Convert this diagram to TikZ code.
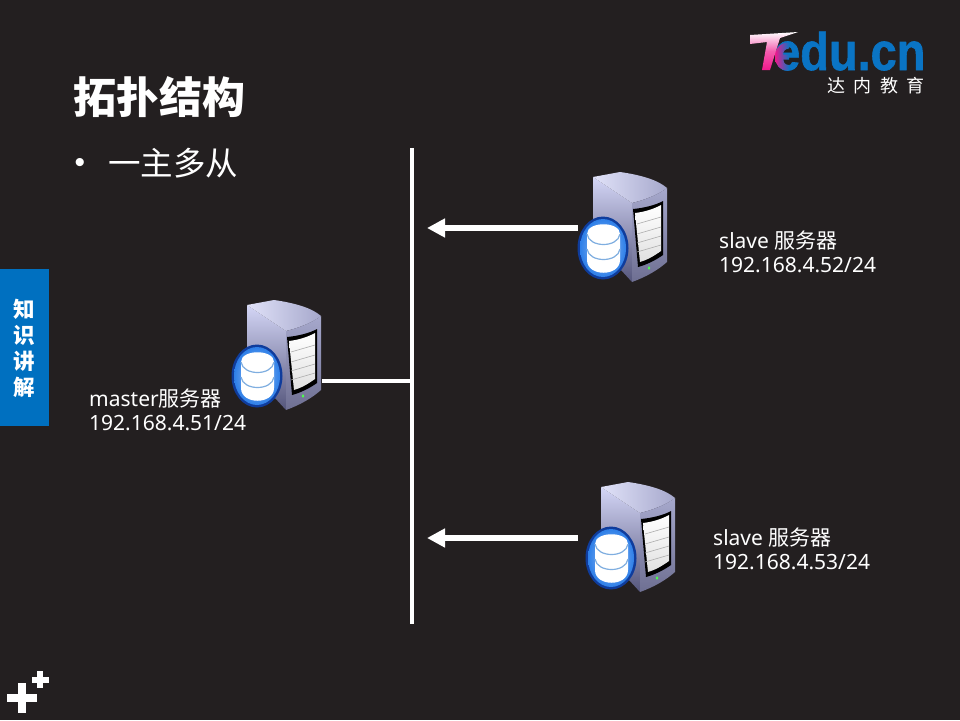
\documentclass[tikz,border=0pt]{standalone}
\usepackage{fontspec}
\setmainfont{Noto Sans}
\newfontfamily\cjk{Noto Sans CJK SC}
\newfontfamily\logofont[BoldFeatures={FakeBold=1.2}]{Liberation Sans}
\usetikzlibrary{arrows.meta,shadings}
\definecolor{bgc}{HTML}{231F20}
\definecolor{sidec}{HTML}{0070C0}
\definecolor{logob}{HTML}{0A74C4}
\definecolor{logop}{HTML}{F0188C}
\definecolor{dbdark}{HTML}{0F3C9C}
\definecolor{dbmid}{HTML}{2E7FE8}
\definecolor{dbline}{HTML}{7FAEE0}
\definecolor{sideup}{HTML}{D4D6F6}
\definecolor{sidelow}{HTML}{55567C}
\definecolor{frontup}{HTML}{A6A8CC}
\definecolor{frontlow}{HTML}{6E6F92}
\tikzset{
  lbl/.style={anchor=west,text=white,font=\fontsize{21}{24}\selectfont,inner sep=0pt},
  sidetxt/.style={text=white,font=\cjk\bfseries\fontsize{21.5}{22}\selectfont,inner sep=0pt},
  wire/.style={draw=white,line width=4pt},
  flow/.style={draw=white,line width=6pt,-{Triangle[length=18pt,width=18pt]}},
  plusmark/.style={fill=white,draw=none}
}
\newcommand{\serverpic}[2]{%
\begin{scope}[shift={(#1,#2)}]
  % left side
  \path[top color=sideup,bottom color=sidelow]
    (27,15) -- (66,41) -- (66,120) -- (55,108) -- (27,85) -- cycle;
  % top
  \path[left color=sideup!70!white,right color=frontup]
    (27,15) -- (54,10) .. controls (75,13) and (92,18) .. (101,26)
    .. controls (92,33) and (78,38) .. (66,41) -- cycle;
  % front
  \path[top color=frontup,bottom color=frontlow]
    (66,41) .. controls (78,38) and (92,33) .. (101,26) -- (101,100) .. controls (92,108) and (80,115) .. (66,120) -- cycle;
  % window
  \path[fill=black] (67,47) .. controls (78,46) and (90,43) .. (97,39) -- (97,93) .. controls (90,98) and (80,103) .. (72,105) -- cycle;
  \path[top color=white,bottom color=black!12!white]
    (69,51) .. controls (78,50) and (88,47) .. (95,43) -- (95,89) .. controls (88,94) and (81,98) .. (74,100) -- cycle;
  \foreach \a/\b in {62/55,72/65,81/74,90/83}{\draw[black!32!white,line width=.6pt] (71,\a) -- (95,\b);}
  % LED
  \path[fill=green!70!white] (83,106) ellipse (1.3 and 1.8);
  % database disc
  \path[fill=dbdark] (37,86) ellipse (25.5 and 31.5);
  \path[inner color=dbmid!45!white,outer color=dbmid] (37,86) ellipse (23 and 29);
  \path[fill=white] (21,72) .. controls (21,59) and (54,59) .. (54,72)
     -- (54,98) .. controls (54,115) and (21,115) .. (21,98) -- cycle;
  \draw[dbline,line width=1.2pt] (21,72) .. controls (23,86) and (52,86) .. (54,72);
  \draw[dbline,line width=1.2pt] (21,87) .. controls (23,101) and (52,101) .. (54,87);
\end{scope}}
\begin{document}
\begin{tikzpicture}[x=1pt,y=-1pt]
\useasboundingbox (0,0) rectangle (960,720);
\path[fill=bgc] (0,0) rectangle (960,720);
% title
\node[anchor=west,text=white,inner sep=0pt,font=\cjk\bfseries\fontsize{43}{46}\selectfont] (title) at (73,97) {拓扑结构};
\node[text=white,inner sep=0pt,font=\logofont\fontsize{30}{30}\selectfont] (bullet) at (80,165) {•};
\node[anchor=west,text=white,inner sep=0pt,font=\cjk\fontsize{32.5}{36}\selectfont] (sub) at (108,163) {一主多从};
% sidebar
\path[fill=sidec] (0,269) rectangle (49,426);
\node[sidetxt] (s1) at (24,309) {知};
\node[sidetxt] (s2) at (24,335) {识};
\node[sidetxt] (s3) at (24,361) {讲};
\node[sidetxt] (s4) at (24,387) {解};
% plus icon
\path[plusmark] (7,694) rectangle (37,702);
\path[plusmark] (18,683) rectangle (26,713);
\path[plusmark] (32,677) rectangle (49,683);
\path[plusmark] (37,671) rectangle (43,688);
% logo
\node[anchor=base west,inner sep=0pt,text=logob,font=\logofont\bfseries\fontsize{53}{53}\selectfont] (logo) at (774,70) {\scalebox{.885}[1]{edu.cn}};
\path[left color=logop,right color=logob]
  (789,42.5) .. controls (780,42.5) and (775,49) .. (775,57) .. controls (775,65) and (780,70.5) .. (789,70.5)
  -- (789,65) .. controls (785,65) and (783,62) .. (783,59.5) -- (789,59.5) -- (789,54.5) -- (783,54.5) .. controls (783,51) and (786,48.5) .. (789,48.5) -- cycle;
\path[top color=white,bottom color=logop,middle color=white!30!logop]
  (750,35) -- (798,32) -- (780,38) -- (770,70) -- (762,70) -- (767,42) -- (750,44) -- cycle;
\node[anchor=base west,inner sep=0pt,text=white,font=\cjk\fontsize{18}{20}\selectfont] (logot) at (827,92) {达\hspace{8.5pt}内\hspace{8.5pt}教\hspace{8.5pt}育};
% network
\coordinate (bustop) at (412,148);
\coordinate (busbot) at (412,624);
\coordinate (busm) at (412,381);
\coordinate (busa) at (427,228);
\coordinate (busb) at (427,538);
\coordinate (mport) at (322,381);
\coordinate (aport) at (578,228);
\coordinate (bport) at (578,538);
\draw[wire] (bustop) -- (busbot);
\draw[wire] (mport) -- (busm);
\draw[flow] (aport) -- (busa);
\draw[flow] (bport) -- (busb);
\serverpic{220}{290}
\serverpic{566}{162}
\serverpic{574}{472}
% labels
\node[lbl] (m1) at (89,399) {master{\cjk 服务器}};
\node[lbl] (m2) at (89,423) {192.168.4.51/24};
\node[lbl] (a1) at (719,241) {slave {\cjk 服务器}};
\node[lbl] (a2) at (719,265) {192.168.4.52/24};
\node[lbl] (b1) at (713,538) {slave {\cjk 服务器}};
\node[lbl] (b2) at (713,562) {192.168.4.53/24};
\end{tikzpicture}
\end{document}
